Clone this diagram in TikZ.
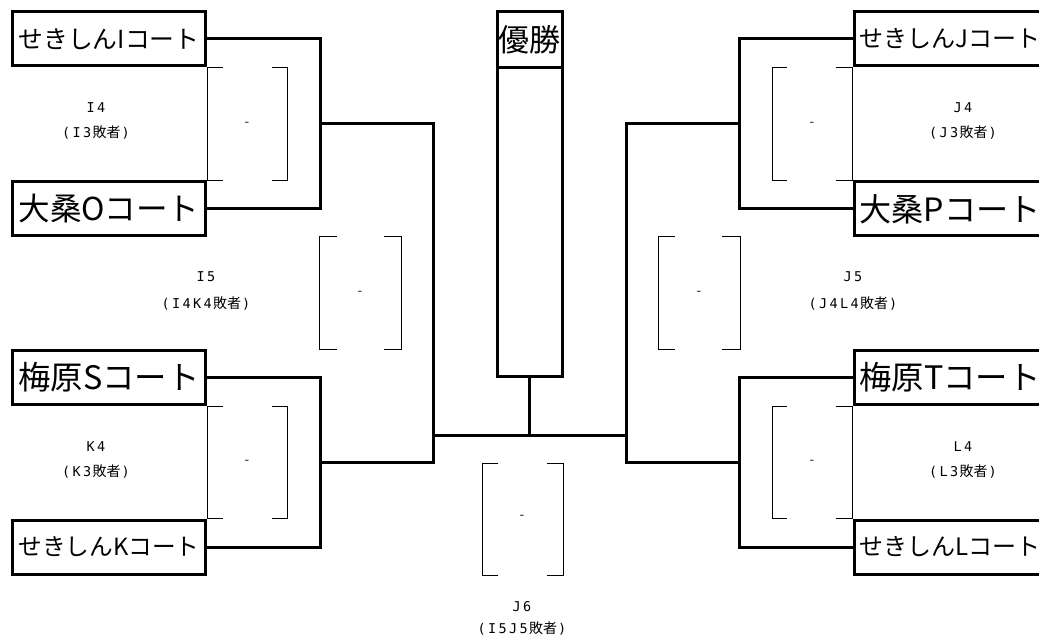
\documentclass[tikz,border=0pt]{standalone}
\usepackage{fontspec}
\newfontfamily\jp{Noto Sans CJK JP}
\newfontfamily\mn{DejaVu Sans Mono}
\newcommand\ch[1]{\makebox[10.5bp]{#1}}
\newcommand\bt[2]{\resizebox{#1}{!}{\jp #2}}
\newcommand\sj{\jp\fontsize{14bp}{16bp}\selectfont}
\newcommand\sm{\mn\fontsize{13.5bp}{15bp}\selectfont}
\begin{document}
\begin{tikzpicture}[x=1bp,y=-1bp,
  court/.style={draw,line width=3bp,minimum width=192bp,minimum height=54bp,inner sep=0pt,outer sep=0pt},
  bline/.style={line width=3bp},
  thinl/.style={line width=1bp},
  lab/.style={inner sep=0pt,outer sep=0pt,text=black},
  dashlab/.style={inner sep=0pt,font=\sm,text=black!80}]
\useasboundingbox (0,0) rectangle (1039,638);
\clip (0,0) rectangle (1039,638);
% left courts
\node[court] (bI) at (109,39) {\bt{181bp}{せきしんIコート}};
\node[court] (bO) at (109,209) {\bt{181bp}{大桑Oコート}};
\node[court] (bS) at (109,377.5) {\bt{181bp}{梅原Sコート}};
\node[court] (bK) at (109,547) {\bt{181bp}{せきしんKコート}};
% right courts
\node[court] (bJ) at (950,39) {\bt{181bp}{せきしんJコート}};
\node[court] (bP) at (950,209) {\bt{181bp}{大桑Pコート}};
\node[court] (bT) at (950,377.5) {\bt{181bp}{梅原Tコート}};
\node[court] (bL) at (950,547) {\bt{181bp}{せきしんLコート}};
% winner
\node[draw,line width=3bp,minimum width=65bp,minimum height=56bp,inner sep=0pt,outer sep=0pt] (win) at (529.5,40) {\bt{62bp}{優勝}};
\node[draw,line width=3bp,minimum width=65bp,minimum height=308bp,inner sep=0pt,outer sep=0pt] (winb) at (529.5,222) {};
% junctions
\coordinate (jI) at (320,124);
\coordinate (jK) at (320,462);
\coordinate (jC) at (433,435);
\coordinate (jJ) at (739,124);
\coordinate (jL) at (739,462);
\coordinate (jD) at (626,435);
% connectors
\draw[bline] (bI.east) -| (jI) |- (bO.east);
\draw[bline] (bS.east) -| (jK) |- (bK.east);
\draw[bline] (jI) -| (jC) |- (jK);
\draw[bline] (bJ.west) -| (jJ) |- (bP.west);
\draw[bline] (bT.west) -| (jL) |- (bL.west);
\draw[bline] (jJ) -| (jD) |- (jL);
\draw[bline] (jC) -- (jD);
\draw[bline] (winb.south) -- (winb.south |- jC);
% thin brackets
\draw[thinl] (223,68) -- (207,68) -- (207,181) -- (223,181);
\draw[thinl] (272,68) -- (287,68) -- (287,181) -- (272,181);
\draw[thinl] (223,406) -- (207,406) -- (207,518) -- (223,518);
\draw[thinl] (272,406) -- (287,406) -- (287,518) -- (272,518);
\draw[thinl] (337,237) -- (319,237) -- (319,349) -- (337,349);
\draw[thinl] (384,237) -- (401,237) -- (401,349) -- (384,349);
\draw[thinl] (498,463) -- (482,463) -- (482,575) -- (498,575);
\draw[thinl] (547,463) -- (563,463) -- (563,575) -- (547,575);
\draw[thinl] (722,237) -- (740,237) -- (740,349) -- (722,349);
\draw[thinl] (675,237) -- (658,237) -- (658,349) -- (675,349);
\draw[thinl] (836,68) -- (852,68) -- (852,181) -- (836,181);
\draw[thinl] (787,68) -- (772,68) -- (772,181) -- (787,181);
\draw[thinl] (836,406) -- (852,406) -- (852,518) -- (836,518);
\draw[thinl] (787,406) -- (772,406) -- (772,518) -- (787,518);
% dashes
\node[dashlab] (dI4) at (247,124) {-};
\node[dashlab] (dK4) at (247,462) {-};
\node[dashlab] (dI5) at (360,293) {-};
\node[dashlab] (dJ6) at (522,517) {-};
\node[dashlab] (dJ5) at (699,293) {-};
\node[dashlab] (dJ4) at (812,124) {-};
\node[dashlab] (dL4) at (812,462) {-};
% labels
\node[lab] (tI4) at (96,108) {\sm\ch{I}\ch{4}};
\node[lab] (sI4) at (96,133) {\sm\ch{(}\ch{I}\ch{3}\sj 敗者\sm\ch{)}};
\node[lab] (tK4) at (96,447) {\sm\ch{K}\ch{4}};
\node[lab] (sK4) at (96,472) {\sm\ch{(}\ch{K}\ch{3}\sj 敗者\sm\ch{)}};
\node[lab] (tI5) at (206,277) {\sm\ch{I}\ch{5}};
\node[lab] (sI5) at (206,304) {\sm\ch{(}\ch{I}\ch{4}\ch{K}\ch{4}\sj 敗者\sm\ch{)}};
\node[lab] (tJ4) at (963,108) {\sm\ch{J}\ch{4}};
\node[lab] (sJ4) at (963,133) {\sm\ch{(}\ch{J}\ch{3}\sj 敗者\sm\ch{)}};
\node[lab] (tL4) at (963,447) {\sm\ch{L}\ch{4}};
\node[lab] (sL4) at (963,472) {\sm\ch{(}\ch{L}\ch{3}\sj 敗者\sm\ch{)}};
\node[lab] (tJ5) at (853,277) {\sm\ch{J}\ch{5}};
\node[lab] (sJ5) at (853,304) {\sm\ch{(}\ch{J}\ch{4}\ch{L}\ch{4}\sj 敗者\sm\ch{)}};
\node[lab] (tJ6) at (522,607) {\sm\ch{J}\ch{6}};
\node[lab] (sJ6) at (522,628) {\sm\ch{(}\ch{I}\ch{5}\ch{J}\ch{5}\sj 敗者\sm\ch{)}};
\end{tikzpicture}
\end{document}
